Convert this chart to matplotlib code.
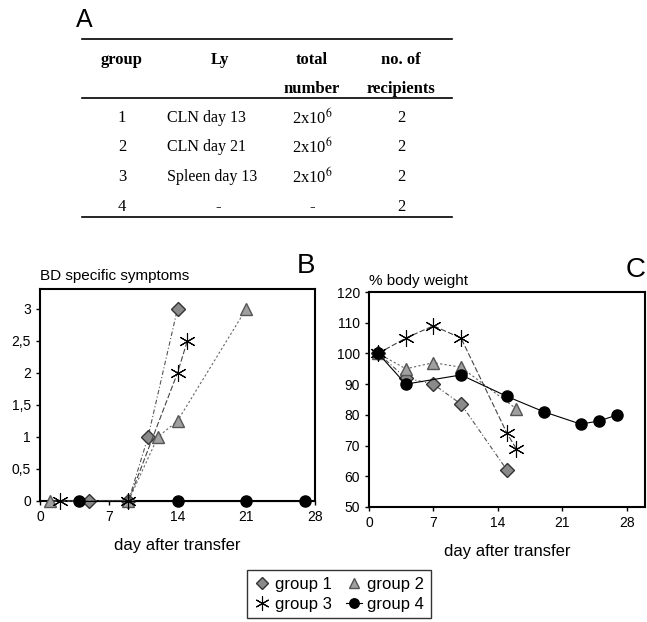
import matplotlib
matplotlib.use("Agg")
import matplotlib.pyplot as plt
from matplotlib.lines import Line2D
from matplotlib.ticker import FuncFormatter

plt.rcParams["font.family"] = ["Liberation Sans", "DejaVu Sans"]
plt.rcParams["mathtext.fontset"] = "stix"

# --- table A ---
table_header = [("group", ""), ("Ly", ""), ("total", "number"), ("no. of", "recipients")]
table_group = ["1", "2", "3", "4"]
table_ly = ["CLN day 13", "CLN day 21", "Spleen day 13", "-"]
table_total = ["2x10$^{6}$", "2x10$^{6}$", "2x10$^{6}$", "-"]
table_recip = ["2", "2", "2", "2"]

# --- panel B: BD specific symptoms ---
b_days = {
    "group 1": [5, 9, 11, 14],
    "group 2": [1, 9, 12, 14, 21],
    "group 3": [2, 9, 14, 15],
    "group 4": [4, 14, 21, 27],
}
b_score = {
    "group 1": [0, 0, 1, 3],
    "group 2": [0, 0, 1, 1.25, 3],
    "group 3": [0, 0, 2, 2.5],
    "group 4": [0, 0, 0, 0],
}

# --- panel C: % body weight ---
c_days = {
    "group 1": [1, 4, 7, 10, 15],
    "group 2": [1, 4, 7, 10, 16],
    "group 3": [1, 4, 7, 10, 15, 16],
    "group 4": [1, 4, 10, 15, 19, 23, 25, 27],
}
c_weight = {
    "group 1": [100, 92, 90, 83.5, 62],
    "group 2": [100, 95, 97, 95.5, 82],
    "group 3": [100, 105, 109, 105, 74, 69],
    "group 4": [100, 90, 93, 86, 81, 77, 78, 80],
}

style = {
    "group 1": dict(marker="D", ms=7, mfc="#8a8a8a", mec="#333333", mew=1.0,
                    color="#555555", ls=(0, (4, 2, 1, 2)), lw=0.8),
    "group 2": dict(marker="^", ms=9, mfc="#a0a0a0", mec="#555555", mew=1.0,
                    color="#666666", ls=(0, (2, 2)), lw=0.8),
    "group 3": dict(marker=(6, 2, 0), ms=12, mfc="black", mec="black", mew=0.8,
                    color="#444444", ls=(0, (5, 2)), lw=0.8),
    "group 4": dict(marker="o", ms=8, mfc="black", mec="black", mew=1.0,
                    color="black", ls="-", lw=0.8),
}

fig = plt.figure(figsize=(6.47, 6.22), dpi=100)
W, H = 647, 622


def fx(px):
    return px / W


def fy(py):
    return 1 - py / H


# table
fig.text(fx(76), fy(20), "A", fontsize=18, va="center", ha="left")
for y in (39, 98, 217):
    fig.add_artist(Line2D([fx(82), fx(452)], [fy(y), fy(y)], color="black", lw=1.2,
                          transform=fig.transFigure))
col_x = [122, 220, 312, 401]
serif = ["Liberation Serif", "DejaVu Serif"]
for cx, (h1, h2) in zip(col_x, table_header):
    fig.text(fx(cx), fy(60), h1, family=serif, fontweight="bold", fontsize=12,
             ha="center", va="center")
    if h2:
        fig.text(fx(cx), fy(89), h2, family=serif, fontweight="bold", fontsize=12,
                 ha="center", va="center")
row_y = [118, 147, 177, 207]
for i, ry in enumerate(row_y):
    fig.text(fx(col_x[0]), fy(ry), table_group[i], family=serif, fontsize=12, ha="center", va="center")
    if table_ly[i] == "-":
        fig.text(fx(218), fy(ry), "-", family=serif, fontsize=12, ha="center", va="center")
    else:
        fig.text(fx(167), fy(ry), table_ly[i], family=serif, fontsize=11.5, ha="left", va="center")
    fig.text(fx(col_x[2]), fy(ry), table_total[i], family=serif, fontsize=12, ha="center", va="center")
    fig.text(fx(col_x[3]), fy(ry), table_recip[i], family=serif, fontsize=12, ha="center", va="center")

# panel B
axB = fig.add_axes([fx(40), fy(501), fx(315) - fx(40), fy(289) - fy(501)])
axB.axhline(0, color="black", lw=0.8, ls=(0, (3, 2)), zorder=1)
for g in b_days:
    axB.plot(b_days[g], b_score[g], clip_on=False, zorder=3, **style[g])
axB.set_xlim(0, 28)
axB.set_ylim(0, 3.31)
axB.set_xticks([0, 7, 14, 21, 28])
axB.set_yticks([0, 0.5, 1, 1.5, 2, 2.5, 3])
axB.yaxis.set_major_formatter(FuncFormatter(lambda v, p: f"{v:g}".replace(".", ",")))
axB.set_xlabel("day after transfer", fontsize=12, labelpad=10)
axB.text(0, 1.03, "BD specific symptoms", transform=axB.transAxes, fontsize=11,
         ha="left", va="bottom")
fig.text(fx(306), fy(266), "B", fontsize=20, ha="center", va="center")

# panel C
axC = fig.add_axes([fx(369), fy(507), fx(645) - fx(369), fy(292) - fy(507)])
for g in c_days:
    axC.plot(c_days[g], c_weight[g], clip_on=False, zorder=3, **style[g])
axC.set_xlim(0, 30)
axC.set_ylim(50, 120)
axC.set_xticks([0, 7, 14, 21, 28])
axC.set_yticks(range(50, 121, 10))
axC.set_xlabel("day after transfer", fontsize=12, labelpad=10)
axC.text(0, 1.02, "% body weight", transform=axC.transAxes, fontsize=11,
         ha="left", va="bottom")
fig.text(fx(636), fy(270), "C", fontsize=20, ha="center", va="center")

for ax in (axB, axC):
    for sp in ax.spines.values():
        sp.set_linewidth(1.5)
    ax.tick_params(direction="out", length=3, width=1, labelsize=10)

# legend: row 1 = group 1, group 2; row 2 = group 3, group 4 (column-wise fill)
order = ["group 1", "group 3", "group 2", "group 4"]
handles = []
for g in order:
    kw = dict(style[g])
    kw["ls"] = "-" if g == "group 4" else "none"
    kw["ms"] = kw["ms"] * 0.85
    handles.append(Line2D([0], [0], **kw))
fig.legend(handles, order, ncol=2, loc="center",
           bbox_to_anchor=(fx(339), fy(594)), frameon=True, fancybox=False,
           edgecolor="black", fontsize=12, handlelength=1.0, handletextpad=0.3,
           columnspacing=0.8, borderpad=0.4, labelspacing=0.3)

fig.savefig("out.png", dpi=100)
